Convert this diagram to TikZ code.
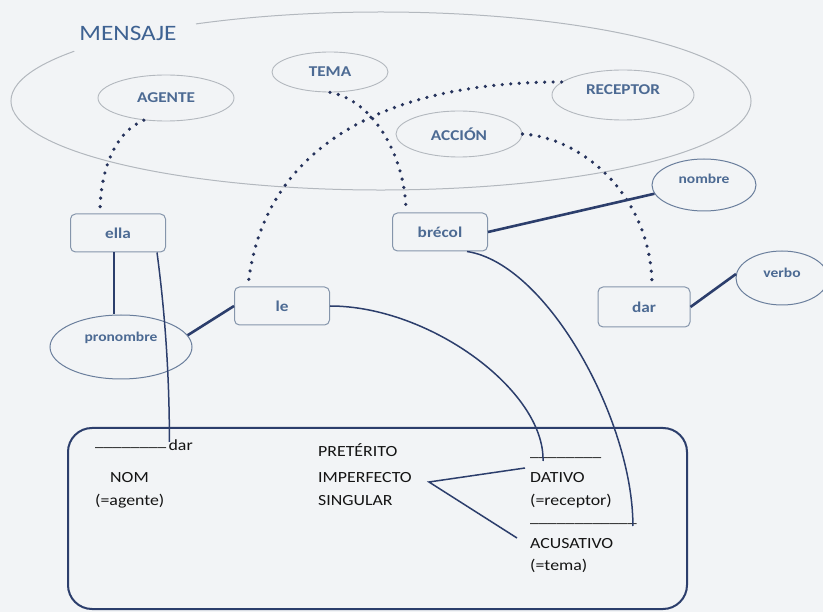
\documentclass[tikz,border=0pt]{standalone}
\usepackage{fontspec}
\setmainfont{Carlito}[FakeStretch=1.15]
\usetikzlibrary{shapes.geometric,calc}
\definecolor{paper}{HTML}{F2F4F6}
\definecolor{navy}{HTML}{2C3E6C}
\definecolor{dotnavy}{HTML}{26335C}
\definecolor{roleblue}{HTML}{4C6A93}
\definecolor{titleblue}{HTML}{3E6292}
\definecolor{mist}{HTML}{B3B8BE}
\definecolor{frameline}{HTML}{8595AB}
\definecolor{ovalline}{HTML}{6A7E9C}
\definecolor{ink}{HTML}{141414}
\begin{document}
\begin{tikzpicture}[x=1pt,y=-1pt,
  role/.style={ellipse, draw=mist, line width=0.9pt, inner sep=0pt, text=roleblue,
    font=\fontsize{15}{18}\selectfont\bfseries},
  kind/.style={ellipse, draw=ovalline, line width=1pt, inner sep=0pt, text=roleblue,
    font=\fontsize{13.5}{16}\selectfont\bfseries},
  word/.style={rectangle, rounded corners=5pt, draw=frameline, line width=1pt, fill=paper,
    minimum width=95pt, minimum height=38pt, inner sep=0pt, text=roleblue,
    font=\fontsize{15}{18}\selectfont\bfseries},
  dotlink/.style={draw=dotnavy, line width=3.6pt, line cap=round, dash pattern=on 0pt off 8.5pt},
  bond/.style={draw=navy, line width=2.6pt},
  thread/.style={draw=navy, line width=1.5pt},
  gloss/.style={anchor=base west, inner sep=0pt, text=ink, font=\fontsize{15.5}{18}\selectfont},
]
\fill[paper] (0,0) rectangle (823,612);
\useasboundingbox (0,0) rectangle (823,612);

% the message: a large open ellipse
\draw[mist, line width=1pt] (381,101) ++(146:370pt and 89pt)
  arc[start angle=146, end angle=480, x radius=370pt, y radius=89pt];
\node[inner sep=0pt, text=titleblue, font=\fontsize{22}{26}\selectfont] (mensaje) at (128,33) {MENSAJE};

% semantic roles
\node[role, minimum width=136pt, minimum height=46pt] (agente) at (166,98) {AGENTE};
\node[role, minimum width=116pt, minimum height=40pt] (tema) at (330,72) {TEMA};
\node[role, minimum width=142pt, minimum height=50pt] (receptor) at (623,95) {\raisebox{11pt}{RECEPTOR}};
\node[role, minimum width=126pt, minimum height=46pt] (accion) at (459,134) {ACCIÓN};

% word classes
\node[kind, minimum width=104pt, minimum height=52pt] (nombre) at (704,185) {\raisebox{13pt}{nombre}};
\node[kind, minimum width=92pt, minimum height=54pt] (verbo) at (782,278) {\raisebox{11pt}{verbo}};
\node[kind, minimum width=142pt, minimum height=64pt] (pron) at (121,347) {\raisebox{21pt}{pronombre}};

% words of the sentence
\node[word] (ella) at (118,233) {ella};
\node[word] (le) at (282,306) {le};
\node[word] (brecol) at (440,232) {brécol};
\node[word, minimum width=92pt, minimum height=40pt] (dar) at (644,307) {dar};

% grammatical frame
\node[draw=navy, line width=2pt, rounded corners=24pt, minimum width=619pt, minimum height=181pt,
  inner sep=0pt] (frame) at (377.5,518.5) {};
\node[gloss] (agline) at (95,447) {\_\_\_\_\_\_\_\_};
\node[gloss] (agverb) at ($(agline.base east)+(2,4)$) {dar};
\node[gloss] (nom) at (110,483) {NOM};
\node[gloss] (agnote) at (95,506) {(=agente)};
\node[gloss] (pret) at (318,457) {PRETÉRITO};
\node[gloss] (imperf) at (318,483) {IMPERFECTO};
\node[gloss] (sing) at (318,506) {SINGULAR};
\node[gloss] (datline) at (530,457) {\_\_\_\_\_\_\_\_};
\node[gloss] (dativo) at (530,483) {DATIVO};
\node[gloss] (recnote) at (530,506) {(=receptor)};
\node[gloss] (acline) at (530,522) {\_\_\_\_\_\_\_\_\_\_\_\_};
\node[gloss] (acus) at (530,548) {ACUSATIVO};
\node[gloss] (temanote) at (530,571) {(=tema)};

% role links
\draw[dotlink] (agente.225) .. controls +(-29,12) and +(0,-43) .. ([xshift=-18pt]ella.north);
\draw[dotlink] (tema.south) .. controls +(45,8) and +(0,-53) .. ([xshift=-34pt]brecol.north);
\draw[dotlink] (receptor.168) .. controls +(-181,0) and +(14,-137) .. ([xshift=-34pt]le.north);
\draw[dotlink] (accion.east) .. controls +(63,4) and +(0,-87) .. ([xshift=8pt]dar.north);

% class links
\draw[bond] ([xshift=-4pt]ella.south) -- ([xshift=-7pt]pron.north);
\draw[bond] (pron.10) -- (le.west);
\draw[bond] (brecol.east) -- (nombre.190);
\draw[bond] (dar.east) -- (verbo.175);

% case links
\draw[thread] ([xshift=39pt]ella.south) .. controls +(6,45) and +(0,-80) .. ($(agverb.base west)+(1,-9)$);
\draw[thread] (le.east) .. controls +(100,0) and +(2,-70) .. ($(datline.base west)+(13,4)$);
\draw[thread] ([xshift=27pt]brecol.south) .. controls +(80,12) and +(0,-106) .. ($(acline.base east)+(-4,4)$);
\draw[thread] ($(dativo.base west)+(-5,-15)$) -- ($(imperf.base east)+(17,-1)$)
  -- ($(acus.base west)+(-13,-10)$);
\end{tikzpicture}
\end{document}
